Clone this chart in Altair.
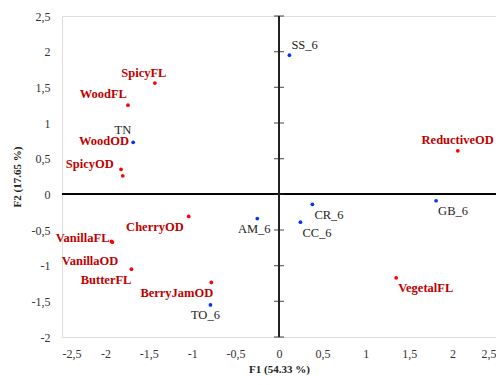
import altair as alt
import pandas as pd

# Data
names = ["SpicyFL", "WoodFL", "WoodOD", "SpicyOD", "ReductiveOD", "CherryOD",
         "VanillaFL", "VanillaOD", "ButterFL", "BerryJamOD", "VegetalFL",
         "SS_6", "TN", "AM_6", "CR_6", "CC_6", "GB_6", "TO_6"]
f1 = [-1.43, -1.74, -1.82, -1.80, 2.06, -1.04,
      -1.93, -1.92, -1.70, -0.78, 1.35,
      0.12, -1.68, -0.25, 0.385, 0.247, 1.81, -0.79]
f2 = [1.56, 1.25, 0.35, 0.26, 0.61, -0.31,
      -0.66, -0.67, -1.05, -1.235, -1.17,
      1.95, 0.73, -0.34, -0.14, -0.39, -0.09, -1.55]
kind = ["var"] * 11 + ["obs"] * 7

x_ticks = [-2.5, -2, -1.5, -1, -0.5, 0, 0.5, 1, 1.5, 2, 2.5]
y_ticks = [-2, -1.5, -1, -0.5, 0, 0.5, 1, 1.5, 2, 2.5]

# label placement (styling only): align, dx, dy in pixels
label_align = ["center", "right", "right", "right", "right", "right",
               "right", "right", "right", "right", "left",
               "left", "right", "center", "left", "left", "left", "center"]
label_dx = [-11, -1, 8, -9, 36, -5, -2, 6, 0, 2, 2, 2, -2, -3, 2, 2, 2, -5]
label_dy = [-10, -11, -28, -12, -11, 11, -3, 19, 11, 11, 10, -10, -12, 10, 11, 11, 10, 10]

df = pd.DataFrame({"name": names, "F1": f1, "F2": f2, "kind": kind})
ticks_df = pd.DataFrame({"t": y_ticks})

FONT = "Liberation Serif"
label_expr = "replace(toString(datum.value), '.', ',')"

xscale = alt.Scale(domain=[-2.5, 2.5], nice=False, zero=False)
yscale = alt.Scale(domain=[-2, 2.5], nice=False, zero=False)

xaxis = alt.Axis(values=x_ticks, labelExpr=label_expr, grid=False, domain=False,
                 ticks=False, tickSize=0, labelPadding=11, labelFont=FONT,
                 labelFontSize=12, labelColor="#333333", labelOverlap=False,
                 title="F1 (54.33 %)",
                 titleFont=FONT, titleFontSize=11, titleFontWeight="bold",
                 titleColor="#222222", titlePadding=4)
yaxis = alt.Axis(values=y_ticks, labelExpr=label_expr, grid=False, domain=False,
                 ticks=False, tickSize=0, labelPadding=12, labelFont=FONT,
                 labelFontSize=12, labelColor="#333333", labelOverlap=False,
                 title="F2 (17.65 %)",
                 titleFont=FONT, titleFontSize=11, titleFontWeight="bold",
                 titleColor="#222222", titlePadding=9)


def X(*args, **kw):
    return alt.X(*args, scale=xscale, axis=xaxis, **kw)


def Y(*args, **kw):
    return alt.Y(*args, scale=yscale, axis=yaxis, **kw)


points = alt.Chart(df).mark_circle(size=14, opacity=1).encode(
    x=X("F1:Q"),
    y=Y("F2:Q"),
    color=alt.Color("kind:N", scale=alt.Scale(domain=["var", "obs"],
                                              range=["#ff0000", "#0033ff"]),
                    legend=None),
)

vline = alt.Chart(df).mark_rule(color="#222222", strokeWidth=1.2).encode(x=X(datum=0))
hline = alt.Chart(df).mark_rule(color="#000000", strokeWidth=1).encode(y=Y(datum=0))
vticks = alt.Chart(ticks_df).mark_tick(orient="horizontal", size=10, thickness=1.2,
                                       color="#222222").encode(
    x=X(datum=0), y=Y("t:Q"))

labels = []
for i, n in enumerate(names):
    is_var = kind[i] == "var"
    labels.append(
        alt.Chart(df).transform_filter(alt.datum.name == n).mark_text(
            align=label_align[i], baseline="middle", dx=label_dx[i], dy=label_dy[i],
            font=FONT, fontSize=12.5, fontWeight="bold" if is_var else "normal",
            color="#c00000" if is_var else "#222222",
        ).encode(x=X("F1:Q"), y=Y("F2:Q"), text="name:N")
    )

chart = alt.layer(points, hline, vline, vticks, *labels).properties(
    width=434, height=321,
    autosize=alt.AutoSizeParams(type="none"),
    padding={"left": 54, "top": 8, "right": 0, "bottom": 38},
).configure_view(stroke="#d0d0d0", strokeWidth=1).configure(background="white")

chart.save("out.html", embed_options={"renderer": "svg", "actions": False})
